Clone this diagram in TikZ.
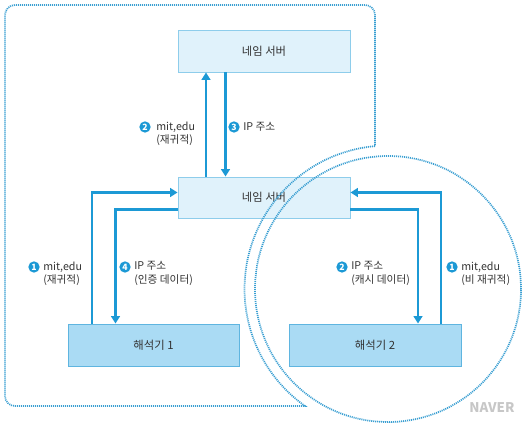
\documentclass[tikz,border=0pt]{standalone}
\usepackage{fontspec}
\setmainfont{Noto Sans CJK KR}
\usetikzlibrary{arrows.meta,shadows,calc}
\definecolor{lineblue}{HTML}{1C99D5}
\definecolor{dotblue}{HTML}{3A9FD2}
\definecolor{srvfill}{HTML}{E0F2FB}
\definecolor{srvborder}{HTML}{8ECDEB}
\definecolor{resfill}{HTML}{AADBF4}
\definecolor{resborder}{HTML}{5FB5E0}
\definecolor{textgray}{HTML}{333333}
\begin{document}
\begin{tikzpicture}[x=0.75pt,y=-0.75pt,
  srv/.style={draw=srvborder, fill=srvfill, line width=0.7pt, minimum width=129pt,
    minimum height=31.5pt, inner sep=0pt, font=\fontsize{8.5}{10}\selectfont, text=textgray,
    drop shadow={shadow xshift=0.8pt, shadow yshift=-0.8pt, fill=black!45, opacity=0.6}},
  res/.style={srv, fill=resfill, draw=resborder},
  arr/.style={draw=lineblue, line width=1.8pt, -{Triangle[length=5.5pt,width=6.5pt]}},
  dotline/.style={draw=dotblue, line width=1.3pt, dash pattern=on 0.8pt off 0.7pt},
  num/.style={circle, fill=lineblue, text=white, inner sep=0pt, minimum size=8.5pt,
    font=\fontsize{6.5}{6.5}\selectfont\bfseries},
  lbl/.style={anchor=west, align=left, inner sep=0pt, font=\fontsize{8}{10}\selectfont, text=textgray}
]
\useasboundingbox (0,0) rectangle (530,423);

% boxes
\node[srv] (ns1) at (264,51) {네임 서버};
\node[srv, minimum height=30.75pt] (ns2) at (264,197.5) {네임 서버};
\node[res, minimum width=128.25pt] (r1) at (153.5,345) {해석기 1};
\node[res] (r2) at (375,345) {해석기 2};

% dotted regions
\coordinate (cc) at (388,289);
\draw[dotline] ($(cc)+(95.2:107.6pt)$) coordinate (oa)
  arc[start angle=95.2, end angle=234.6, radius=107.6pt] coordinate (ob)
  -- (15,406) arc[start angle=270, end angle=180, radius=7.5pt]
  -- (5,15) arc[start angle=180, end angle=90, radius=7.5pt]
  -- (365,5) arc[start angle=90, end angle=0, radius=7.5pt]
  -- (oa);
\draw[dotline] (cc) circle[radius=99.75pt];

% arrows
\draw[arr] (206,0 |- ns2.north) -- (206,0 |- ns1.south);
\draw[arr] (225.5,0 |- ns1.south) -- (225.5,0 |- ns2.north);
\draw[arr] (92,0 |- r1.north) |- (ns2.west |- 0,192.5);
\draw[arr] (ns2.west |- 0,209.5) -| (115.5,0 |- r1.north);
\draw[arr] (441,0 |- r2.north) |- (ns2.east |- 0,192.5);
\draw[arr] (ns2.east |- 0,209.5) -| (418,0 |- r2.north);

% labels
\node[num] (n2a) at (145,127) {2};
\node[lbl] (t2a) at (156,133.5) {mit,edu\\(재귀적)};
\node[num] (n3) at (234,127) {3};
\node[lbl] (t3) at (243,127) {IP 주소};
\node[num] (n1a) at (34,267) {1};
\node[lbl] (t1a) at (43,273.5) {mit,edu\\(재귀적)};
\node[num] (n4) at (125,267) {4};
\node[lbl] (t4) at (134,273.5) {IP 주소\\(인증 데이터)};
\node[num] (n2b) at (342,267) {2};
\node[lbl] (t2b) at (351,273.5) {IP 주소\\(캐시 데이터)};
\node[num] (n1b) at (452,267) {1};
\node[lbl] (t1b) at (461,273.5) {mit,edu\\(비 재귀적)};

% watermark
\node[font=\fontsize{10}{10}\selectfont\bfseries, text=black!22, inner sep=0pt] (wm) at (492,408) {NAVER};
\end{tikzpicture}
\end{document}
